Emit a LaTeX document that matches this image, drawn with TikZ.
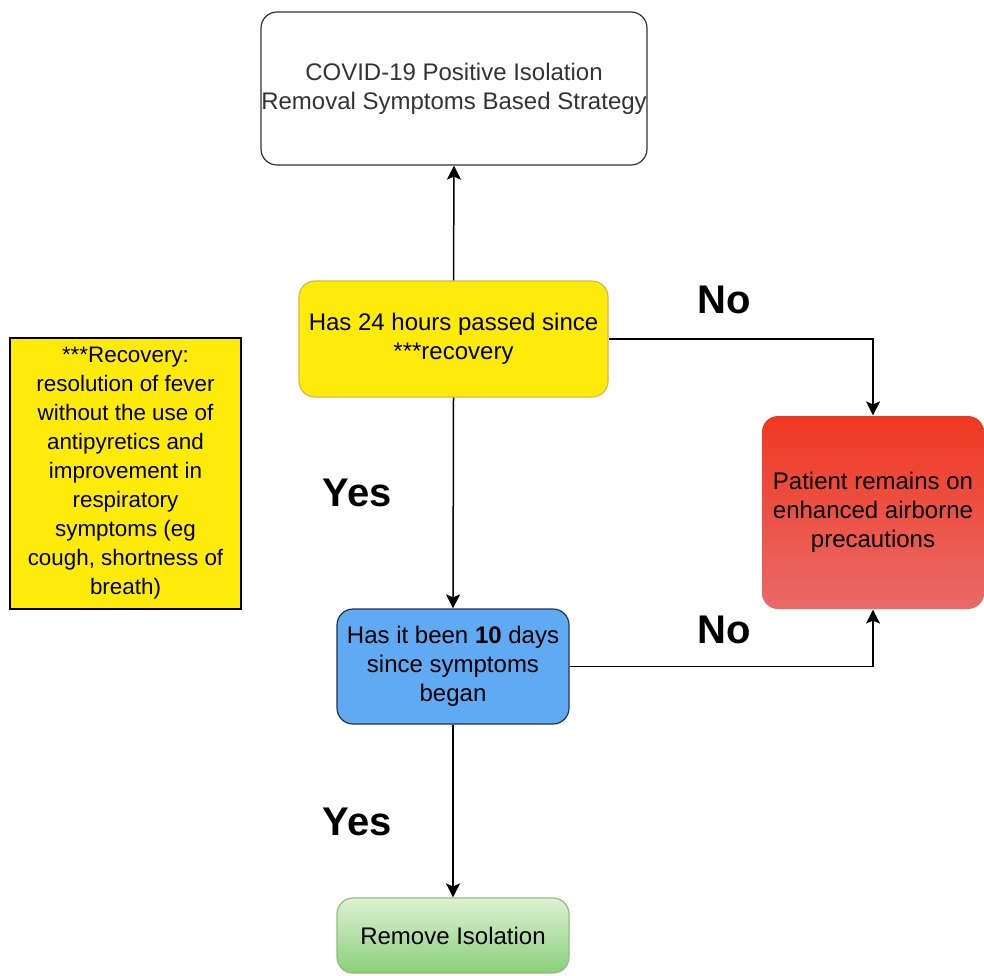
\documentclass[tikz,border=0pt]{standalone}
\usepackage{fontspec}
\setmainfont{Liberation Sans}
\usetikzlibrary{arrows.meta}
\definecolor{boxyellow}{HTML}{FFEB0A}
\definecolor{yellowedge}{HTML}{D9B84A}
\definecolor{bluefill}{HTML}{5FAAF2}
\definecolor{blueedge}{HTML}{1F3550}
\definecolor{redtop}{HTML}{F03820}
\definecolor{redbottom}{HTML}{E96A68}
\definecolor{greentop}{HTML}{DDF0D4}
\definecolor{greenbottom}{HTML}{8ACF7A}
\definecolor{greenedge}{HTML}{8DBE7E}
\definecolor{grayedge}{HTML}{333333}
\tikzset{
  x=1pt, y=-1pt,
  box/.style={rectangle, rounded corners=16pt, align=center, inner sep=0pt,
    font=\fontsize{24}{29}\selectfont, line width=1.2pt},
  link/.style={line width=1.5pt, -{Stealth[length=14pt,width=14pt,inset=3pt]}},
  answer/.style={font=\fontsize{40}{44}\selectfont\bfseries}
}
\begin{document}
\begin{tikzpicture}
\useasboundingbox (0,0) rectangle (984,975);
% boxes
\node[box, draw=grayedge, fill=white, text=black!80, minimum width=386pt, minimum height=153pt]
  (start) at (454,88.5) {COVID-19 Positive Isolation\\Removal Symptoms Based Strategy};
\node[box, draw=yellowedge, fill=boxyellow, minimum width=309pt, minimum height=116pt]
  (recov) at (453.5,339) {Has 24 hours passed since\\***recovery};
\node[rectangle, draw=black, line width=1.2pt, fill=boxyellow, align=center, inner sep=0pt,
  font=\fontsize{22.4}{29}\selectfont, minimum width=231pt, minimum height=271pt]
  (note) at (125.5,473.5) {***Recovery:\\resolution of fever\\without the use of\\antipyretics and\\improvement in\\respiratory\\symptoms (eg\\cough, shortness of\\breath)};
\node[box, draw=none, top color=redtop, bottom color=redbottom, minimum width=222pt, minimum height=193pt]
  (remain) at (873,512.5) {Patient remains on\\enhanced airborne\\precautions};
\node[box, draw=blueedge, fill=bluefill, minimum width=232pt, minimum height=115pt]
  (days) at (453,666.5) {Has it been \textbf{10} days\\since symptoms\\began};
\node[box, draw=greenedge, top color=greentop, bottom color=greenbottom, minimum width=232pt, minimum height=75pt]
  (remove) at (453,935.5) {Remove Isolation};
% connectors
\draw[link] (recov.north) -- (start.south);
\draw[link] (recov.south) -- (days.north);
\draw[link] (recov.east) -| (remain.north);
\draw[link] (days.east) -| (remain.south);
\draw[link] (days.south) -- (remove.north);
% answers
\node[answer] (no1) at (724,300) {No};
\node[answer] (no2) at (724,630) {No};
\node[answer] (yes1) at (357,493) {Yes};
\node[answer] (yes2) at (357,822) {Yes};
\end{tikzpicture}
\end{document}
